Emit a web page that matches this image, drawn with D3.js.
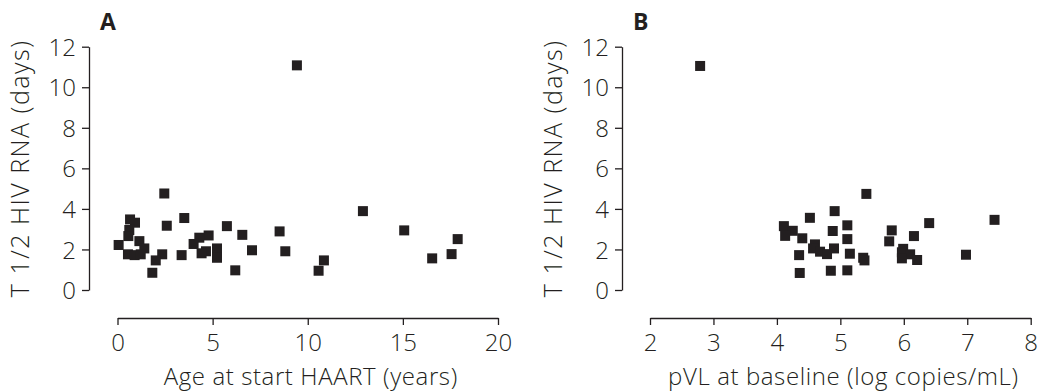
<!DOCTYPE html>
<html>
<head>
<meta charset="utf-8">
<script src="https://cdn.jsdelivr.net/npm/d3@7"></script>
<style>
  html, body { margin: 0; padding: 0; background: #fff; }
  svg { display: block; }
  text { font-family: "Open Sans", "Noto Sans", sans-serif; fill: #231f20; }
</style>
</head>
<body>
<svg id="chart" width="1044" height="392"></svg>
<script>
// Panel A: age at start of HAART (years) vs half-life of HIV RNA (days)
const ageYears = [9.43, 2.46, 0.66, 0.92, 3.51, 2.59, 5.75, 6.56, 8.52, 0.62,
  0.57, 1.15, 0.06, 1.41, 4.79, 4.30, 4.00, 5.23, 4.65, 4.42,
  7.07, 8.82, 0.55, 0.90, 1.22, 2.35, 3.37, 5.23, 2.01, 1.83,
  6.19, 12.90, 15.07, 17.88, 10.85, 10.57, 16.54, 17.56];
const halfLifeA = [11.08, 4.76, 3.48, 3.32, 3.55, 3.17, 3.15, 2.72, 2.89, 2.96,
  2.66, 2.41, 2.22, 2.05, 2.69, 2.58, 2.27, 2.05, 1.91, 1.81,
  1.96, 1.91, 1.76, 1.72, 1.76, 1.76, 1.72, 1.59, 1.46, 0.85,
  0.97, 3.89, 2.94, 2.51, 1.46, 0.95, 1.56, 1.77];

// Panel B: baseline plasma viral load (log copies/mL) vs half-life (days)
const pvlLog = [2.79, 4.91, 4.52, 4.11, 5.11, 4.25, 4.88, 4.13, 4.40, 5.11,
  4.60, 4.90, 4.57, 4.68, 4.79, 5.15, 4.35, 5.36, 4.85, 5.11,
  4.36, 5.41, 6.40, 7.43, 5.81, 6.16, 5.77, 5.38, 5.99, 5.97,
  6.10, 5.97, 6.21, 6.98];
const halfLifeB = [11.05, 3.89, 3.56, 3.15, 3.19, 2.92, 2.91, 2.67, 2.55, 2.51,
  2.25, 2.05, 2.05, 1.89, 1.77, 1.79, 1.72, 1.59, 0.95, 0.97,
  0.84, 4.74, 3.30, 3.46, 2.94, 2.66, 2.40, 1.46, 2.03, 1.86,
  1.76, 1.56, 1.48, 1.74];

const yTicks = [0, 2, 4, 6, 8, 10, 12];
const xTicksA = [0, 5, 10, 15, 20];
const xTicksB = [2, 3, 4, 5, 6, 7, 8];

const panels = [
  { letter: "A", xs: ageYears, ys: halfLifeA, xDomain: [0, 20], xTicks: xTicksA,
    xTitle: "Age at start HAART (years)", yAxisX: 89, xRange: [117.5, 498] },
  { letter: "B", xs: pvlLog, ys: halfLifeB, xDomain: [2, 8], xTicks: xTicksB,
    xTitle: "pVL at baseline (log copies/mL)", yAxisX: 622, xRange: [650, 1030.7] }
];

const svg = d3.select("#chart");
const ink = "#231f20";
const yTop = 46.7, yBottom = 290, xAxisY = 318;
const markerSize = 10;

panels.forEach(p => {
  const g = svg.append("g");
  const x = d3.scaleLinear().domain(p.xDomain).range(p.xRange);
  const y = d3.scaleLinear().domain([0, 12]).range([yBottom, yTop]);

  const yAxis = g.append("g")
    .attr("transform", `translate(${p.yAxisX},0)`)
    .call(d3.axisLeft(y).tickValues(yTicks).tickFormat(d3.format("d"))
      .tickSize(7).tickSizeOuter(0).tickPadding(6));
  const xAxis = g.append("g")
    .attr("transform", `translate(0,${xAxisY})`)
    .call(d3.axisBottom(x).tickValues(p.xTicks).tickFormat(d3.format("d"))
      .tickSize(7).tickSizeOuter(0).tickPadding(9));

  [yAxis, xAxis].forEach(ax => {
    ax.select(".domain").attr("stroke", ink).attr("stroke-width", 1.3);
    ax.selectAll(".tick line").attr("stroke", ink).attr("stroke-width", 1.3);
    ax.selectAll(".tick text")
      .style("font-family", '"Open Sans", "Noto Sans", sans-serif')
      .style("font-weight", 300)
      .style("font-size", "24px")
      .attr("fill", ink);
  });
  yAxis.selectAll(".tick text").attr("dy", "0.36em");

  g.append("text")
    .attr("x", (p.xRange[0] + p.xRange[1]) / 2 + 3)
    .attr("y", 385)
    .attr("text-anchor", "middle")
    .style("font-size", "24px").style("font-weight", 300)
    .style("letter-spacing", "0.6px")
    .text(p.xTitle);

  g.append("text")
    .attr("transform", `translate(${p.yAxisX - 60},${(yTop + yBottom) / 2}) rotate(-90)`)
    .attr("text-anchor", "middle")
    .style("font-size", "25px").style("font-weight", 300)
    .style("letter-spacing", "1.5px")
    .text("T 1/2 HIV RNA (days)");

  g.append("text")
    .attr("x", p.yAxisX + 11)
    .attr("y", 30)
    .style("font-size", "23px").style("font-weight", 700)
    .text(p.letter);

  const pts = p.xs.map((v, i) => ({ x: v, y: p.ys[i] }));
  g.append("g").selectAll("rect").data(pts).join("rect")
    .attr("x", d => x(d.x) - markerSize / 2)
    .attr("y", d => y(d.y) - markerSize / 2)
    .attr("width", markerSize)
    .attr("height", markerSize)
    .attr("fill", ink);
});
</script>
</body>
</html>
